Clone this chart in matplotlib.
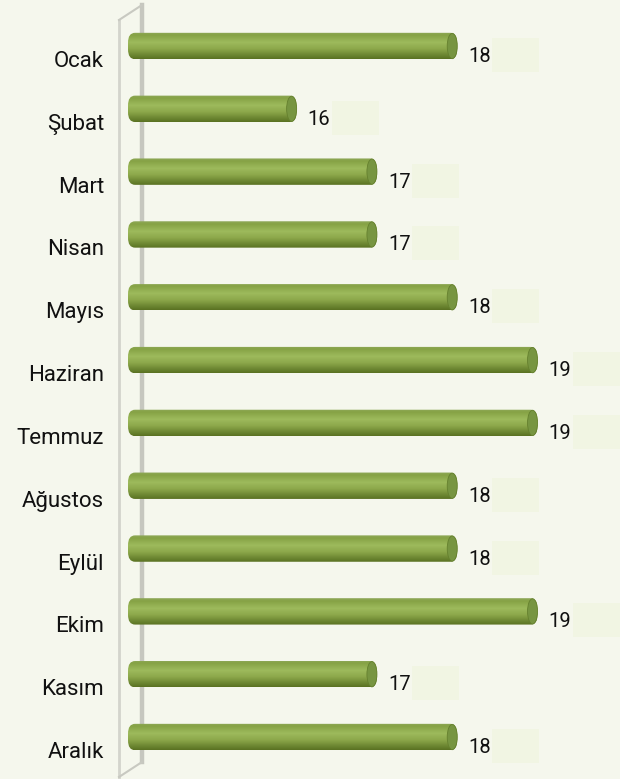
import matplotlib
matplotlib.use('Agg')
import numpy as np
import matplotlib.pyplot as plt
from matplotlib.patches import FancyBboxPatch, Ellipse, Rectangle
from matplotlib.lines import Line2D
from matplotlib.colors import LinearSegmentedColormap

months = ['Ocak', 'Şubat', 'Mart', 'Nisan', 'Mayıs', 'Haziran',
          'Temmuz', 'Ağustos', 'Eylül', 'Ekim', 'Kasım', 'Aralık']
values = [18, 16, 17, 17, 18, 19, 19, 18, 18, 19, 17, 18]

BASE = 13.9          # where the bars start
BG = '#f5f7ed'

plt.rcParams['font.family'] = ['Roboto', 'DejaVu Sans']

fig = plt.figure(figsize=(6.2, 7.79), dpi=100, facecolor=BG)
ax = fig.add_axes([0, 0, 1, 1])
ax.set_facecolor(BG)

# pixel scale: ~80.3 px per unit in x, ~62.8 px per category in y
xpx = 80.3
ypx = 62.82
xmin = BASE - 128 / xpx
xmax = xmin + 620 / xpx
ytop = -46 / ypx
ybot = ytop + 779 / ypx

bar_h = 0.42
ypos = np.arange(len(months))

# the left "wall"
wl = xmin + 119 / xpx
wr = xmin + 142 / xpx
ax.add_line(Line2D([wl, wl], [ytop + 20 / ypx, ytop + 777 / ypx], color='#d3d4cc', lw=2.0, zorder=1))
ax.add_line(Line2D([wr, wr], [ytop + 5 / ypx, ytop + 762 / ypx], color='#c6c7bf', lw=3.2, zorder=1))
ax.add_line(Line2D([wl, wr], [ytop + 20 / ypx, ytop + 5 / ypx], color='#c8c9c1', lw=1.5, zorder=1))
ax.add_line(Line2D([wl, wr], [ytop + 777 / ypx, ytop + 762 / ypx], color='#c8c9c1', lw=1.5, zorder=1))

bars = ax.barh(ypos, [v - BASE for v in values], left=BASE, height=bar_h,
               color='#86a146', zorder=2)

grad_cmap = LinearSegmentedColormap.from_list('cyl', [
    (0.00, '#8ea85a'),
    (0.10, '#86a245'),
    (0.38, '#9dba5c'),
    (0.62, '#8da84b'),
    (0.86, '#6c8631'),
    (1.00, '#5a7222'),
])
grad = np.linspace(0, 1, 64).reshape(-1, 1)

for b, v in zip(bars, values):
    x0, w = b.get_x(), b.get_width()
    yc = b.get_y() + b.get_height() / 2
    b.set_visible(False)
    r = 7 / xpx
    shape = FancyBboxPatch((x0, yc - bar_h / 2), w, bar_h,
                           boxstyle='round,pad=0,rounding_size=%f' % r,
                           mutation_aspect=(bar_h / 2) / r * 0.75,
                           facecolor='none', edgecolor='none', zorder=2)
    ax.add_patch(shape)
    im = ax.imshow(grad, cmap=grad_cmap, aspect='auto', origin='upper',
                   extent=(x0, x0 + w, yc + bar_h / 2, yc - bar_h / 2),
                   zorder=2, interpolation='bilinear')
    im.set_clip_path(shape)
    # end cap
    cap = Ellipse((x0 + w - 5 / xpx, yc), 10 / xpx, bar_h * 0.96,
                  facecolor='#779541', edgecolor='#65802e', lw=0.6, zorder=3)
    ax.add_patch(cap)
    # faint label box
    ax.add_patch(Rectangle((x0 + w + 35 / xpx, yc - 8 / ypx), 47 / xpx, 34 / ypx,
                           facecolor='#f1f5e3', edgecolor='none', zorder=1))
    ax.text(x0 + w + 11 / xpx, yc + 16 / ypx, str(v), ha='left', va='baseline',
            fontsize=14.5, color='#111111', zorder=4)

for y, m in zip(ypos, months):
    ax.text(xmin + 104 / xpx, y + 21 / ypx, m, ha='right', va='baseline',
            fontsize=16, color='#111111')

ax.set_xlim(xmin, xmax)
ax.set_ylim(ybot, ytop)
ax.axis('off')

fig.savefig('out.png', dpi=100, facecolor=BG)
